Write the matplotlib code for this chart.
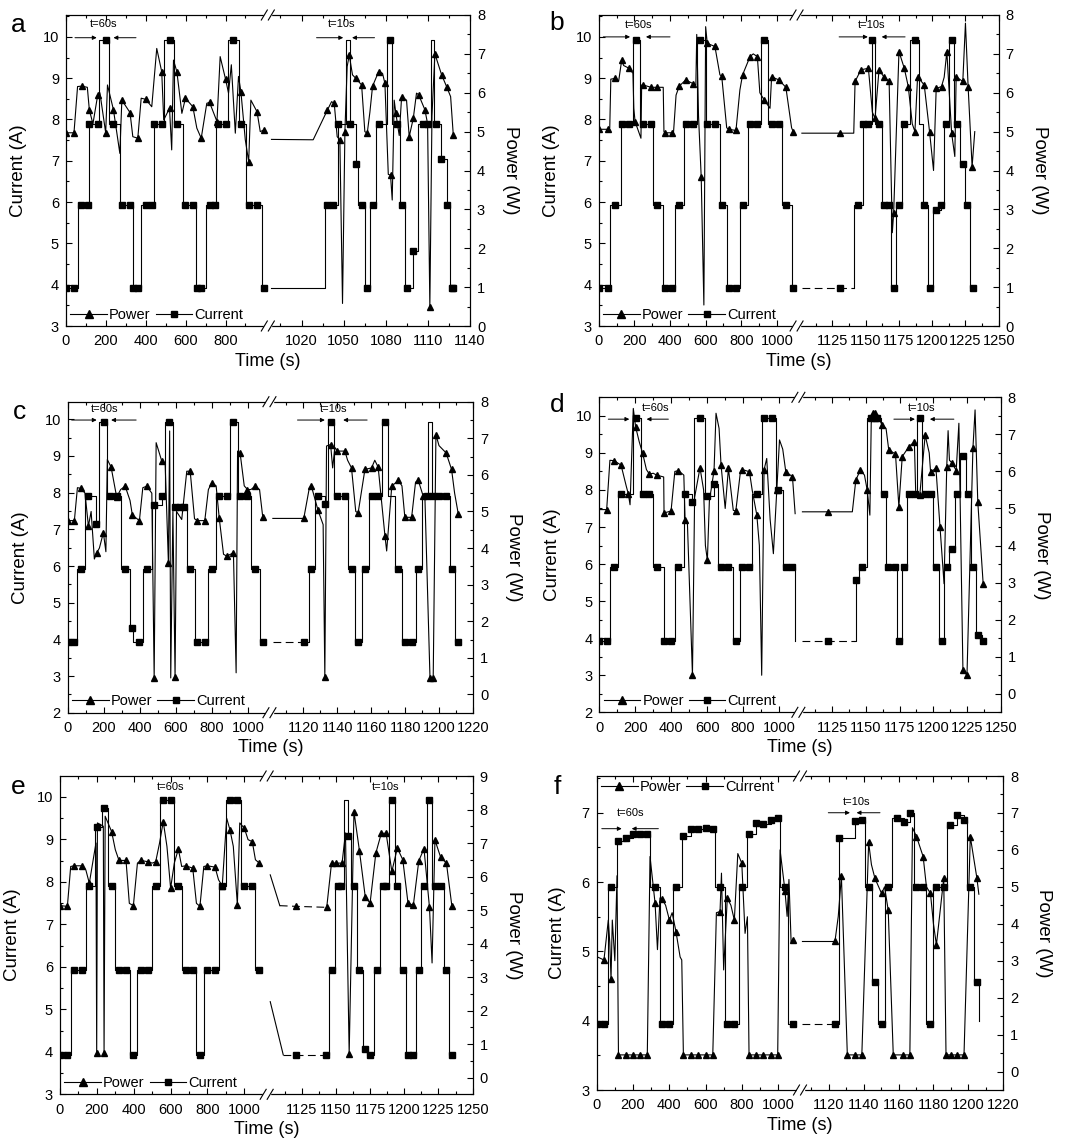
import numpy as np
import matplotlib
matplotlib.use('Agg')
import matplotlib.pyplot as plt
from matplotlib.lines import Line2D
from matplotlib.patches import Rectangle
from matplotlib.ticker import MultipleLocator, FixedLocator

plt.rcParams['font.family'] = ['Liberation Sans', 'DejaVu Sans']

# ---------------------------------------------------------------- panel a
# current: marked samples + unmarked step edges (time s, current A)
a_cur_t = [0, 40, 74, 108, 117, 159, 199, 238, 280, 321, 335, 360, 400, 430, 440, 480, 519, 556, 599, 639, 656, 678, 720, 745, 760, 800, 837, 877, 916, 958, 991,
           1038.5, 1042.6, 1046, 1054.4, 1058.7, 1062.8, 1066.3, 1071, 1075.3, 1083, 1087.7, 1091.3, 1095.3, 1099.6, 1106.7, 1110, 1115.7, 1119.7, 1123.3, 1126.9, 1128]
a_cur_i = [3.93, 3.93, 5.93, 5.93, 7.9, 7.9, 9.93, 7.9, 5.93, 5.93, 3.93, 3.93, 5.93, 5.93, 7.9, 7.9, 9.93, 7.9, 5.93, 5.93, 3.93, 3.93, 5.93, 5.93, 7.9, 7.9, 9.93, 7.9, 5.93, 5.93, 3.93,
           5.93, 5.93, 7.9, 7.9, 6.92, 5.93, 3.93, 5.93, 7.9, 9.93, 7.9, 5.93, 3.93, 4.82, 7.9, 7.9, 7.9, 7.05, 5.93, 3.93, 3.93]
a_cur_et = [58, 167, 216, 272, 377, 489, 540, 586, 650, 700, 752, 812, 866, 905, 985,
            998.6, 1037, 1051.6, 1060.5, 1065, 1068.7, 1073.4, 1080.6, 1084.5, 1090, 1093.6, 1103, 1112, 1114.5, 1125.7]
a_cur_ei = [5.93, 9.93, 7.9, 5.93, 5.93, 9.93, 7.9, 5.93, 3.93, 5.93, 7.9, 9.93, 7.9, 5.93, 3.93,
            3.93, 5.93, 9.93, 5.93, 3.93, 5.93, 7.9, 9.93, 7.9, 5.93, 3.93, 7.9, 9.93, 7.9, 3.93]
# power: marked samples + unmarked vertices (time s, power W)
a_pow_t = [0, 40, 79, 117, 159, 199, 238, 280, 321, 360, 400, 480, 519, 556, 599, 636, 678, 720, 757, 800, 877, 916, 958, 991,
           1038.5, 1043.3, 1047.3, 1050.9, 1054, 1058.7, 1062.8, 1066.8, 1070.6, 1074.9, 1079.4, 1083.4, 1087.2, 1091.3, 1096.7, 1099.6, 1103.4, 1107.9, 1111.4, 1115, 1119.8, 1123.3, 1128.1]
a_pow_p = [4.97, 4.97, 6.17, 5.56, 5.94, 4.97, 5.56, 5.81, 5.49, 4.83, 5.83, 6.54, 5.6, 6.54, 5.86, 5.64, 4.83, 5.75, 5.26, 6.35, 6.03, 4.23, 5.51, 5.04,
           5.56, 5.73, 4.79, 5.0, 6.97, 6.37, 6.2, 4.96, 6.17, 6.54, 6.24, 3.88, 5.47, 5.9, 4.87, 5.34, 5.95, 5.56, 0.5, 7.0, 6.46, 6.16, 4.91]
a_pow_xt = [58, 107, 135, 170, 208, 270, 335, 377, 430, 455, 490, 530, 539, 581, 656, 706, 773, 815, 829, 849, 865, 899, 927, 974,
            998.6, 1028.3, 1041.4, 1045.4, 1049.2, 1052.5, 1056.3, 1065.1, 1068.7, 1077.7, 1081.8, 1084.6, 1086, 1089.6, 1094.8, 1101.9, 1109.8, 1112.9, 1126.2]
a_pow_xp = [6.16, 6.14, 5.2, 6.0, 6.2, 4.44, 4.87, 5.86, 5.64, 7.14, 5.3, 4.53, 6.84, 5.47, 5.09, 5.73, 6.93, 5.99, 6.72, 4.96, 6.42, 4.79, 5.81, 5.0,
            4.8, 4.79, 5.77, 4.87, 0.58, 6.67, 6.46, 5.0, 5.5, 6.5, 3.9, 3.24, 5.81, 4.9, 5.81, 5.99, 5.2, 5.4, 5.9]

# ---------------------------------------------------------------- panel b
b_cur_t = [0, 50, 92, 129, 170, 211, 250, 293, 329, 372, 413, 452, 488, 531, 570, 609, 652, 690, 729, 770, 807, 849, 890, 929, 970, 1011, 1050, 1091,
           1131, 1144, 1147.6, 1152, 1154.6, 1160, 1163.6, 1167.6, 1171, 1175, 1179, 1187, 1194, 1198.5, 1202.7, 1206.7, 1210.5, 1214.7, 1218.5, 1223, 1226.5, 1230.5]
b_cur_i = [3.93, 3.93, 5.93, 7.9, 7.9, 9.93, 7.9, 7.9, 5.93, 3.93, 3.93, 5.93, 7.9, 7.9, 9.93, 7.9, 7.9, 5.93, 3.93, 3.93, 5.93, 7.9, 7.9, 9.93, 7.9, 7.9, 5.93, 3.93,
           3.93, 5.93, 7.9, 7.9, 9.93, 7.9, 5.93, 5.93, 3.93, 5.93, 7.9, 9.93, 5.93, 3.93, 5.8, 5.93, 7.9, 9.93, 7.9, 6.93, 5.93, 3.93]
b_cur_et = [64, 123, 194, 232, 306, 362, 428, 478, 549, 600, 680, 718, 792, 839, 910, 951, 1026, 1082,
            1102, 1141, 1157, 1162, 1169, 1173, 1177, 1183, 1190, 1193, 1196.5, 1200.5, 1208.5, 1212.5, 1216.5, 1221, 1225, 1228.5]
b_cur_ei = [5.93, 7.9, 9.93, 7.9, 5.93, 3.93, 5.93, 7.9, 9.93, 7.9, 5.93, 3.93, 5.93, 7.9, 9.93, 7.9, 5.93, 3.93,
            3.93, 5.93, 7.9, 5.93, 3.93, 5.93, 7.9, 9.93, 7.9, 5.93, 3.93, 5.8, 7.9, 9.93, 7.9, 6.93, 5.93, 3.93]
b_pow_t = [0, 50, 92, 129, 170, 204, 250, 293, 329, 372, 413, 452, 488, 531, 575, 609, 652, 690, 729, 770, 807, 849, 890, 929, 970, 1011, 1050, 1091,
           1131, 1142, 1146.4, 1152, 1157, 1160, 1163.6, 1167.6, 1171, 1175, 1179, 1182, 1187, 1189, 1194, 1198, 1203, 1207, 1211, 1214.6, 1218, 1223, 1227, 1230]
b_pow_p = [5.06, 5.06, 6.37, 6.84, 6.63, 5.26, 6.2, 6.14, 6.14, 4.97, 4.97, 6.17, 6.33, 6.23, 3.84, 7.27, 7.19, 6.43, 5.06, 5.03, 6.46, 6.93, 6.93, 5.81, 6.41, 6.33, 6.14, 5.0,
           4.96, 6.29, 6.59, 6.63, 5.34, 6.59, 6.41, 6.29, 2.9, 7.06, 6.63, 6.16, 5.0, 6.41, 6.2, 5.0, 6.11, 6.16, 7.06, 4.96, 6.41, 6.29, 6.16, 4.1]
b_pow_xt = [62, 68, 112, 140, 192, 197, 237, 241, 362, 366, 420, 434, 545, 550, 560, 590, 600, 680, 718, 792, 867, 904, 961, 1082,
            1102, 1141, 1155, 1170, 1185, 1201, 1209, 1217, 1225, 1232]
b_pow_xp = [5.1, 6.35, 6.3, 6.7, 6.5, 5.6, 4.83, 6.2, 6.14, 5.0, 5.0, 5.94, 6.2, 7.5, 5.4, 0.54, 7.7, 6.46, 5.1, 6.07, 7.0, 6.0, 5.6, 5.1,
            4.96, 4.96, 5.5, 2.4, 5.2, 4.0, 6.4, 4.36, 7.79, 5.0]

# ---------------------------------------------------------------- panel c
c_cur_t = [0, 37, 74, 115, 157, 202, 235, 276, 319, 359, 398, 439, 480, 522, 563, 596, 624, 643, 680, 720, 761, 800, 841, 883, 920, 957, 998, 1041, 1083,
           1120.2, 1124.7, 1128.6, 1132.6, 1136, 1139.8, 1144.4, 1148.3, 1152.2, 1156.2, 1160.1, 1164, 1168, 1175.8, 1179.7, 1183.7, 1187.6, 1192.5, 1196.4, 1200, 1203.9, 1207.2, 1211.2]
c_cur_i = [3.93, 3.93, 5.93, 7.9, 7.15, 9.93, 7.9, 7.9, 5.93, 4.3, 3.93, 5.93, 7.65, 7.9, 9.93, 7.6, 7.6, 7.6, 5.93, 3.93, 3.93, 5.93, 7.9, 7.9, 9.93, 7.9, 7.9, 5.93, 3.93,
           3.93, 5.93, 7.9, 7.7, 9.93, 7.9, 7.9, 5.93, 3.93, 5.93, 7.9, 7.9, 9.93, 5.93, 3.93, 3.93, 5.93, 7.9, 7.9, 7.9, 7.9, 5.93, 3.93]
c_cur_et = [54, 96, 176, 220, 294, 346, 365, 417, 467, 541, 583, 661, 704, 781, 824, 902, 943, 1017, 1065,
            1102, 1121, 1123, 1127, 1134.5, 1138, 1146.5, 1150.5, 1154.5, 1158.5, 1166, 1170, 1174, 1178, 1186, 1190, 1193.5, 1195.5, 1206, 1209.5]
c_cur_ei = [5.93, 7.9, 9.93, 7.9, 5.93, 4.3, 3.93, 5.93, 7.65, 9.93, 7.6, 5.93, 3.93, 5.93, 7.9, 9.93, 7.9, 5.93, 3.93,
            3.93, 3.93, 5.93, 7.9, 9.93, 7.9, 5.93, 3.93, 5.93, 7.9, 9.93, 7.9, 5.93, 3.93, 5.93, 7.9, 9.93, 7.9, 5.93, 3.93]
c_pow_t = [0, 37, 74, 115, 161, 198, 241, 272, 319, 359, 398, 439, 480, 522, 559, 596, 680, 720, 761, 800, 841, 883, 920, 957, 998, 1041, 1083,
           1120.2, 1124.7, 1128.6, 1132.6, 1136, 1140, 1144.4, 1148.3, 1152.2, 1156.2, 1160.1, 1164, 1168, 1172, 1175.8, 1179.7, 1183.7, 1187.6, 1190.5, 1194.5, 1196.4, 1198, 1204, 1207.2, 1211.2]
c_pow_p = [4.75, 4.75, 5.63, 4.6, 3.87, 4.42, 6.21, 5.39, 5.69, 4.9, 4.75, 5.69, 0.46, 6.38, 3.6, 0.47, 6.1, 4.75, 4.75, 5.78, 4.83, 3.78, 3.87, 6.6, 5.6, 5.69, 4.84,
           4.81, 5.69, 5.03, 0.47, 6.83, 6.65, 6.65, 6.19, 4.96, 6.15, 6.19, 6.21, 4.33, 5.69, 5.85, 4.84, 4.84, 5.85, 5.42, 0.46, 0.46, 7.1, 6.6, 6.15, 4.92]
c_pow_xt = [54, 96, 130, 148, 176, 212, 220, 294, 346, 417, 467, 491, 541, 566, 572, 584, 604, 633, 661, 704, 781, 824, 865, 935, 943, 980, 1017, 1065,
            1102, 1123.5, 1131.6, 1133.6, 1137.2, 1138.5, 1146, 1150.8, 1162, 1169, 1178, 1186, 1191.5, 1199.8, 1209]
c_pow_xp = [5.65, 5.5, 5.0, 3.7, 4.0, 3.9, 6.42, 5.6, 5.3, 5.65, 5.5, 6.88, 6.3, 7.2, 0.45, 5.0, 5.0, 4.78, 6.1, 4.8, 5.6, 5.7, 3.83, 0.59, 6.65, 5.7, 5.6, 5.6,
            4.81, 5.65, 4.64, 6.79, 6.19, 6.75, 6.4, 5.0, 6.4, 3.92, 5.7, 5.8, 5.4, 6.8, 5.5]

# ---------------------------------------------------------------- panel d
d_cur_t = [0, 41, 82, 121, 202, 241, 278, 319, 360, 399, 440, 477, 518, 560, 601, 638, 677, 718, 759, 796, 835, 876, 916, 959, 996, 1037, 1074,
           1122, 1143, 1147.3, 1154.2, 1156.7, 1158.4, 1163.4, 1166.6, 1171.5, 1174.5, 1178.5, 1182.2, 1186.4, 1190.1, 1193.8, 1198, 1202, 1206.2, 1209.9, 1213.6, 1217.3, 1221.8, 1225.5, 1229.7, 1233.4, 1237.1]
d_cur_i = [3.93, 3.93, 5.93, 7.9, 9.93, 7.9, 7.9, 5.93, 3.93, 3.93, 5.93, 7.9, 7.67, 9.93, 7.83, 8.15, 5.93, 5.93, 3.93, 5.93, 5.93, 7.9, 9.93, 9.93, 8.01, 5.93, 5.93,
           3.93, 5.57, 5.93, 9.93, 9.93, 9.93, 7.9, 5.93, 5.93, 3.93, 5.93, 7.9, 7.9, 9.93, 7.9, 7.9, 5.93, 3.93, 5.93, 6.42, 7.9, 8.92, 7.9, 5.93, 4.09, 3.93]
d_cur_et = [59, 105, 188, 232, 300, 358, 420, 470, 527, 590, 660, 745, 785, 850, 905, 985, 1020, 1090,
            1103, 1141, 1145, 1151, 1161, 1165, 1173, 1176.5, 1180.5, 1188, 1192, 1200, 1204, 1208, 1212, 1216, 1220, 1224, 1228, 1232, 1236]
d_cur_ei = [5.93, 7.9, 9.93, 7.9, 5.93, 3.93, 5.93, 7.9, 9.93, 7.83, 5.93, 3.93, 5.93, 7.9, 9.93, 8.01, 5.93, 3.93,
            3.93, 3.93, 5.93, 9.93, 7.9, 5.93, 3.93, 5.93, 7.9, 9.93, 7.9, 5.93, 3.93, 5.93, 6.42, 7.9, 8.92, 7.9, 5.93, 4.09, 3.93]
d_pow_t = [41, 82, 121, 161, 202, 241, 278, 319, 360, 399, 440, 477, 518, 560, 601, 638, 677, 718, 759, 796, 835, 876, 916, 987, 1037, 1074,
           1122, 1142.6, 1146, 1151, 1155, 1157, 1162, 1167, 1172, 1174.5, 1177, 1182, 1186, 1190, 1194, 1198, 1202, 1205, 1210, 1214, 1217, 1222, 1225, 1229.4, 1233, 1237]
d_pow_p = [4.97, 6.29, 6.17, 5.4, 7.2, 6.49, 5.93, 5.9, 4.88, 4.93, 6.02, 4.68, 0.5, 6.1, 3.6, 6.02, 6.17, 6.08, 4.93, 6.05, 5.99, 4.82, 6.04, 5.5, 5.99, 5.86,
           4.91, 5.77, 6.04, 5.5, 7.57, 7.57, 7.25, 6.58, 6.47, 5.05, 6.4, 6.67, 6.8, 5.36, 6.98, 5.99, 6.08, 4.5, 6.13, 6.23, 6.02, 0.63, 0.5, 6.62, 5.18, 2.97]
d_pow_xt = [0, 59, 150, 171, 189, 222, 262, 300, 358, 420, 470, 490, 530, 580, 590, 612, 649, 666, 700, 745, 785, 850, 890, 903, 931, 950, 968, 1002, 1020, 1089,
            1103, 1140, 1149, 1153, 1154, 1159, 1165, 1187, 1197, 1208, 1211, 1212, 1219, 1231]
d_pow_xp = [4.97, 6.3, 5.6, 5.1, 7.7, 6.8, 6.05, 5.95, 5.85, 6.0, 5.9, 4.6, 5.3, 5.5, 4.0, 5.2, 7.57, 7.16, 5.0, 4.95, 6.0, 5.5, 4.0, 0.5, 6.35, 4.7, 3.78, 6.85, 6.6, 4.86,
            4.91, 4.91, 5.9, 4.82, 7.3, 7.5, 7.16, 5.4, 6.5, 2.97, 7.1, 6.3, 7.3, 7.66]

# ---------------------------------------------------------------- panel e
e_cur_t = [0, 40, 76, 117, 159, 199, 239, 280, 320, 358, 398, 438, 479, 519, 560, 600, 642, 682, 720, 759, 799, 841, 880, 922, 962, 1000, 1043, 1081,
           1120.6, 1142.8, 1147.5, 1151.5, 1153.8, 1159.2, 1163.2, 1167.2, 1171, 1175, 1179.7, 1184.4, 1186.7, 1190.9, 1194.9, 1198.9, 1202.7, 1206.6, 1210.6, 1214.4, 1218.4, 1222.4, 1226.6, 1230.8, 1234.8]
e_cur_i = [3.93, 3.93, 5.93, 5.93, 7.9, 9.3, 9.74, 7.9, 5.93, 5.93, 3.93, 5.93, 5.93, 7.9, 9.93, 9.93, 7.9, 5.93, 5.93, 3.93, 5.93, 5.93, 7.9, 9.93, 9.93, 7.9, 7.9, 5.93,
           3.93, 3.93, 5.93, 7.9, 7.9, 9.08, 7.9, 5.93, 4.07, 3.93, 5.93, 7.9, 7.9, 9.93, 7.9, 5.93, 3.93, 3.93, 5.93, 7.9, 9.93, 7.9, 7.9, 5.93, 3.93]
e_cur_et = [58, 140, 190, 230, 260, 300, 380, 420, 500, 540, 620, 660, 740, 780, 860, 900, 980, 1060,
            1111.5, 1145, 1149.5, 1156.2, 1161, 1165.5, 1169.5, 1173, 1177.5, 1182, 1189, 1193, 1197, 1201, 1208.5, 1212.5, 1216.5, 1220.5, 1229, 1233]
e_cur_ei = [5.93, 7.9, 9.3, 9.74, 7.9, 5.93, 3.93, 5.93, 7.9, 9.93, 7.9, 5.93, 3.93, 5.93, 7.9, 9.93, 7.9, 5.93,
            3.93, 5.93, 7.9, 9.93, 7.9, 5.93, 4.07, 3.93, 5.93, 7.9, 9.93, 7.9, 5.93, 3.93, 5.93, 7.9, 9.93, 7.9, 5.93, 3.93]
# sloped lead-in of the current trace just after the axis break
e_cur_lead_t = [1102, 1111.5]
e_cur_lead_i = [5.18, 3.93]
e_pow_t = [0, 40, 76, 117, 159, 199, 239, 280, 320, 358, 398, 438, 479, 519, 560, 600, 642, 682, 720, 759, 799, 841, 880, 922, 962, 1000, 1043, 1081,
           1120.6, 1143.3, 1146.8, 1150.3, 1154.5, 1159.7, 1163.2, 1167.2, 1171.5, 1175, 1179.2, 1183.2, 1186.7, 1190.9, 1194.9, 1198.9, 1202.7, 1206.6, 1210.6, 1214.4, 1218.4, 1222.4, 1226.6, 1230.8, 1234.8]
e_pow_p = [5.13, 5.11, 6.32, 6.32, 5.8, 0.72, 0.74, 7.34, 6.48, 6.48, 5.13, 6.48, 6.44, 6.44, 7.64, 5.65, 6.82, 6.32, 6.25, 5.11, 6.32, 6.28, 5.72, 7.39, 5.16, 7.44, 7.04, 6.4,
           5.11, 5.08, 6.4, 6.4, 6.4, 0.71, 7.94, 6.77, 5.38, 5.21, 6.7, 7.29, 7.29, 6.15, 6.85, 6.5, 5.21, 5.14, 6.47, 6.83, 5.08, 7.09, 6.57, 6.4, 5.11]
e_pow_xt = [58, 140, 195, 203, 235, 245, 300, 376, 420, 500, 540, 580, 620, 660, 740, 780, 860, 904, 940, 975, 1020, 1060,
            1102, 1109, 1157, 1220.3]
e_pow_xp = [6.3, 6.2, 7.0, 7.6, 7.5, 7.8, 6.8, 5.2, 6.4, 6.4, 7.0, 6.9, 6.4, 6.3, 5.2, 6.3, 5.9, 7.74, 6.9, 7.6, 7.1, 6.5,
            6.05, 5.13, 7.3, 3.42]

# ---------------------------------------------------------------- panel f
f_cur_t = [0, 40, 79, 120, 162, 199, 239, 279, 322, 362, 401, 437, 478, 518, 560, 601, 640, 680, 720, 759, 800, 840, 879, 919, 959, 998, 1038, 1081,
           1123.6, 1126, 1135.2, 1139, 1142.9, 1146.5, 1150.3, 1154.1, 1158.9, 1163.1, 1166.5, 1170.3, 1174.1, 1178.3, 1181.7, 1185.9, 1189.7, 1193.5, 1197.3, 1201.1, 1204.9]
f_cur_i = [3.95, 3.95, 5.93, 6.59, 6.64, 6.69, 6.69, 6.69, 5.93, 3.95, 3.95, 5.93, 6.67, 6.76, 6.77, 6.78, 6.76, 5.93, 3.95, 3.95, 5.93, 6.69, 6.85, 6.84, 6.9, 6.92, 5.93, 3.95,
           3.95, 6.64, 6.88, 6.9, 5.93, 4.56, 3.95, 5.93, 6.93, 6.87, 6.99, 5.93, 5.93, 3.95, 5.93, 5.93, 6.83, 6.97, 6.9, 5.93, 4.56]
f_cur_et = [62, 114, 294, 349, 423, 469, 652, 708, 785, 827, 1011, 1057,
            1105, 1141, 1145, 1148, 1152.5, 1156.5, 1169, 1176, 1180, 1188, 1199.5, 1203.5, 1206]
f_cur_ei = [5.93, 6.59, 5.93, 3.95, 5.93, 6.67, 5.93, 3.95, 5.93, 6.69, 5.93, 3.95,
            3.95, 5.93, 4.56, 3.95, 5.93, 6.93, 5.93, 3.95, 5.93, 6.83, 5.93, 4.56, 3.99]
f_pow_t = [40, 79, 120, 162, 199, 239, 279, 322, 362, 401, 437, 478, 518, 560, 601, 640, 680, 720, 759, 800, 840, 879, 919, 959, 998, 1038, 1081,
           1123.6, 1127.3, 1130.7, 1135.1, 1139, 1142.9, 1146.5, 1150.3, 1154.1, 1157, 1162.7, 1166.5, 1170.3, 1174.1, 1178.3, 1181.7, 1185.9, 1187.2, 1189.9, 1193.7, 1197.5, 1201.1, 1204.9]
f_pow_p = [3.02, 2.5, 0.45, 0.45, 0.45, 0.45, 0.45, 4.55, 4.66, 4.1, 3.79, 0.45, 0.45, 0.45, 0.45, 0.45, 4.33, 4.69, 4.1, 5.64, 0.45, 0.45, 0.45, 0.45, 0.45, 4.9, 3.56,
           3.52, 5.29, 0.45, 0.45, 0.45, 6.2, 5.23, 4.82, 4.37, 0.45, 0.45, 0.45, 6.36, 5.82, 4.82, 3.43, 5.23, 0.45, 0.45, 0.45, 0.45, 6.36, 5.23]
f_pow_xt = [0, 64, 72, 86, 100, 112, 294, 335, 349, 380, 416, 460, 469, 660, 688, 700, 740, 778, 818, 831, 1011, 1050, 1060, 1072,
            1105, 1125.5, 1128.5, 1144.5, 1152, 1168, 1176, 1180, 1206]
f_pow_xp = [3.11, 4.1, 3.5, 4.1, 3.0, 5.3, 5.82, 3.3, 4.7, 4.5, 4.3, 3.1, 3.02, 4.3, 5.37, 2.75, 4.5, 5.9, 3.74, 4.19, 6.0, 4.2, 5.2, 3.5,
            3.52, 4.2, 3.6, 5.6, 5.0, 6.6, 5.0, 4.0, 4.8]

W, H = 1079, 1142
fig = plt.figure(figsize=(W / 100, H / 100), dpi=100)
LW = 0.8


def broken_scale(L, R, k):
    # left part drawn 1:1, right part (after R) stretched by k and starting at L
    def fwd(x):
        x = np.asarray(x, dtype=float)
        return np.where(x <= R, x, L + (x - R) * k)

    def inv(y):
        y = np.asarray(y, dtype=float)
        return np.where(y <= L, np.minimum(y, R), R + (y - L) / k)
    return fwd, inv


def merged(t1, v1, t2, v2):
    t = np.concatenate([t1, t2]).astype(float)
    v = np.concatenate([v1, v2]).astype(float)
    o = np.argsort(t, kind='stable')
    return t[o], v[o]


def draw_series(ax, t, v, cut, dash, steps):
    kw = dict(color='k', lw=LW, drawstyle='steps-post' if steps else 'default')
    left = t <= cut
    ax.plot(t[left], v[left], **kw)
    rt, rv = t[~left], v[~left]
    if dash is None:
        ax.plot(rt, rv, **kw)
        return
    d0, d1 = dash
    pre = rt <= d0
    if pre.sum() > 1:
        ax.plot(rt[pre], rv[pre], **kw)
    if steps:
        mid = (rt >= d0) & (rt < d1)
        last = rv[mid][-1]
        mt, mv = np.append(rt[mid], d1), np.append(rv[mid], last)
        post = rt >= d1
        pt, pv = np.insert(rt[post], 0, d1), np.insert(rv[post], 0, last)
    else:
        mid = (rt >= d0) & (rt <= d1)
        mt, mv = rt[mid], rv[mid]
        post = rt >= d1
        pt, pv = rt[post], rv[post]
    ax.plot(mt, mv, ls=(0, (7, 4)), **kw)
    ax.plot(pt, pv, **kw)


def arrow(ax, x0, x1, y):
    ax.annotate('', xy=(x1, y), xytext=(x0, y),
                arrowprops=dict(arrowstyle='-|>', lw=0.7, color='k',
                                mutation_scale=6, shrinkA=0, shrinkB=0))


def panel(box, letter, letter_xy, L, R, k, xmax, xl_major, xl_minor, xr_major, xr_minor,
          ylim_i, yt_i, ylim_p, yt_p, cur, pow_, cur_dash, pow_dash,
          notes, arrows, legend_loc, legend_anchor, cur_lead=None):
    x0, y0, x1, y1 = box
    ax = fig.add_axes([x0 / W, 1 - y1 / H, (x1 - x0) / W, (y1 - y0) / H])
    fwd, inv = broken_scale(L, R, k)
    ax.set_xscale('function', functions=(fwd, inv))
    ax.set_xlim(0, xmax)
    ax2 = ax.twinx()

    ct, ci = merged(cur[0], cur[1], cur[2], cur[3])
    draw_series(ax, ct, ci, R, cur_dash, True)
    if cur_lead is not None:
        ax.plot(cur_lead[0], cur_lead[1], color='k', lw=LW)
    ax.plot(cur[0], cur[1], ls='none', marker='s', ms=4.2, color='k')

    pt, pp = merged(pow_[0], pow_[1], pow_[2], pow_[3])
    draw_series(ax2, pt, pp, R, pow_dash, False)
    ax2.plot(pow_[0], pow_[1], ls='none', marker='^', ms=4.8, color='k')

    majors = list(xl_major) + list(xr_major)
    ax.set_xticks(majors)
    ax.set_xticklabels([str(m) for m in majors])
    ax.xaxis.set_minor_locator(FixedLocator(list(xl_minor) + list(xr_minor)))
    ax.set_xlim(0, xmax)

    ax.set_ylim(*ylim_i)
    ax.set_yticks(yt_i)
    ax.yaxis.set_minor_locator(MultipleLocator(0.5))
    ax2.set_ylim(*ylim_p)
    ax2.set_yticks(yt_p)
    ax2.yaxis.set_minor_locator(MultipleLocator(0.5))

    for a in (ax, ax2):
        a.tick_params(which='both', direction='in', labelsize=10.5, width=0.8, pad=5)
        a.tick_params(which='major', length=4)
        a.tick_params(which='minor', length=2)
        for s in a.spines.values():
            s.set_linewidth(0.8)
    ax.tick_params(which='both', top=True)
    ax.tick_params(axis='x', pad=6)

    ax.set_xlabel('Time (s)', fontsize=13, labelpad=3)
    ax.set_ylabel('Current (A)', fontsize=13.5, labelpad=11)
    ax2.set_ylabel('Power (W)', fontsize=13.5, rotation=270, va='bottom', labelpad=12)

    for x, y, s in notes:
        ax.text(x, y, s, ha='center', va='center', fontsize=8)
    for xa, xb, y in arrows:
        arrow(ax, xa, xb, y)

    handles = [Line2D([], [], color='k', lw=LW, marker='^', ms=5.2),
               Line2D([], [], color='k', lw=LW, marker='s', ms=4.6)]
    ax.legend(handles, ['Power', 'Current'], loc=legend_loc, bbox_to_anchor=legend_anchor,
              ncol=2, frameon=False, fontsize=10.5, handlelength=2.5, handletextpad=0.15,
              columnspacing=0.35, borderaxespad=0.0, borderpad=0.3)

    fig.text(letter_xy[0] / W, 1 - letter_xy[1] / H, letter, fontsize=19,
             ha='center', va='center')

    # "//" marks where the time axis is broken
    xb = x0 + (x1 - x0) * L / float(fwd(xmax))
    for yb in (y0, y1):
        fy = 1 - yb / H
        fig.add_artist(Rectangle((((xb - 3.5) / W), fy - 1.5 / H), 7 / W, 3 / H,
                                 transform=fig.transFigure, color='white', zorder=5))
        for dx in (-3.5, 3.5):
            fig.add_artist(Line2D([(xb + dx - 3) / W, (xb + dx + 3) / W],
                                  [fy - 5 / H, fy + 5 / H],
                                  transform=fig.transFigure, color='k', lw=0.8, zorder=6))
    return ax, ax2


left_major = [0, 200, 400, 600, 800, 1000]
left_minor = [100, 300, 500, 700, 900]

panel((66, 15, 470, 326), 'a', (18, 25), 1012, 996, 7.04, 1140,
      [0, 200, 400, 600, 800], left_minor, [1020, 1050, 1080, 1110, 1140], [1005, 1035, 1065, 1095, 1125],
      (3, 10.53), range(3, 11), (0, 8), range(0, 9),
      (a_cur_t, a_cur_i, a_cur_et, a_cur_ei), (a_pow_t, a_pow_p, a_pow_xt, a_pow_xp), None, None,
      [(188, 10.31, 't=60s'), (1048.5, 10.31, 't=10s')],
      [(45, 154, 9.98), (351, 238, 9.98), (1030.7, 1049.7, 9.98), (1072, 1056, 9.98)],
      'lower left', (0.0, 0.0))

panel((598.7, 15, 998.7, 326), 'b', (557, 23), 1110, 1098, 7.46, 1250,
      left_major, left_minor, [1125, 1150, 1175, 1200, 1225, 1250], [1112.5, 1137.5, 1162.5, 1187.5, 1212.5, 1237.5],
      (3, 10.53), range(3, 11), (0, 8), range(0, 9),
      (b_cur_t, b_cur_i, b_cur_et, b_cur_ei), (b_pow_t, b_pow_p, b_pow_xt, b_pow_xp), (1102, 1141), None,
      [(222, 10.28, 't=60s'), (1154.6, 10.28, 't=10s')],
      [(26, 176, 10.0), (400, 265, 10.0), (1130, 1151.6, 10.0), (1179.6, 1162, 10.0)],
      'lower left', (0.0, 0.0))

panel((67.7, 401.7, 473.3, 712.7), 'c', (20, 412), 1120, 1100, 9.43, 1220,
      left_major, left_minor, [1120, 1140, 1160, 1180, 1200, 1220], [1110, 1130, 1150, 1170, 1190, 1210],
      (2, 10.48), range(2, 11), (-0.5, 8), range(0, 9),
      (c_cur_t, c_cur_i, c_cur_et, c_cur_ei), (c_pow_t, c_pow_p, c_pow_xt, c_pow_xp), (1102, 1121), None,
      [(207, 10.27, 't=60s'), (1137.5, 10.27, 't=10s')],
      [(22, 161, 9.98), (380, 241, 9.98), (1116.5, 1132.6, 9.98), (1157.5, 1143.4, 9.98)],
      'lower left', (0.0, 0.0))

panel((599.3, 397.3, 1000.7, 712.3), 'd', (557, 405), 1107, 1100, 7.5, 1250,
      left_major, left_minor, [1125, 1150, 1175, 1200, 1225, 1250], [1112.5, 1137.5, 1162.5, 1187.5, 1212.5, 1237.5],
      (2, 10.5), range(2, 11), (-0.5, 8), range(0, 9),
      (d_cur_t, d_cur_i, d_cur_et, d_cur_ei), (d_pow_t, d_pow_p, d_pow_xt, d_pow_xp), (1103, 1141), None,
      [(310, 10.22, 't=60s'), (1191.3, 10.22, 't=10s')],
      [(50, 167, 9.91), (384, 263, 9.91), (1170.8, 1186.4, 9.91), (1215.3, 1197.5, 9.91)],
      'lower left', (0.0, 0.0))

panel((60, 776, 472.7, 1094.3), 'e', (18, 787), 1121, 1099.4, 7.42, 1250,
      left_major, left_minor, [1125, 1150, 1175, 1200, 1225, 1250], [1112.5, 1137.5, 1162.5, 1187.5, 1212.5, 1237.5],
      (3, 10.49), range(3, 11), (-0.5, 9), range(0, 10),
      (e_cur_t, e_cur_i, e_cur_et, e_cur_ei), (e_pow_t, e_pow_p, e_pow_xt, e_pow_xp), (1111.5, 1142.8), (1109, 1143.3),
      [(597, 10.23, 't=60s'), (1186, 10.23, 't=10s')],
      [],
      'lower left', (0.0, 0.0), cur_lead=(e_cur_lead_t, e_cur_lead_i))

panel((596.7, 776, 1003.3, 1090), 'f', (557, 787), 1121, 1103.6, 9.63, 1220,
      left_major, left_minor, [1120, 1140, 1160, 1180, 1200, 1220], [1110, 1130, 1150, 1170, 1190, 1210],
      (3, 7.53), range(3, 8), (-0.5, 8), range(0, 9),
      (f_cur_t, f_cur_i, f_cur_et, f_cur_ei), (f_pow_t, f_pow_p, f_pow_xt, f_pow_xp), (1105, 1123.6), None,
      [(184, 6.99, 't=60s'), (1136, 7.16, 't=10s')],
      [(28, 138, 6.77), (340, 193, 6.77), (1119.8, 1132.2, 7.0), (1149.4, 1136, 7.0)],
      'upper left', (0.0, 1.0))

fig.savefig('out.png', dpi=100)
